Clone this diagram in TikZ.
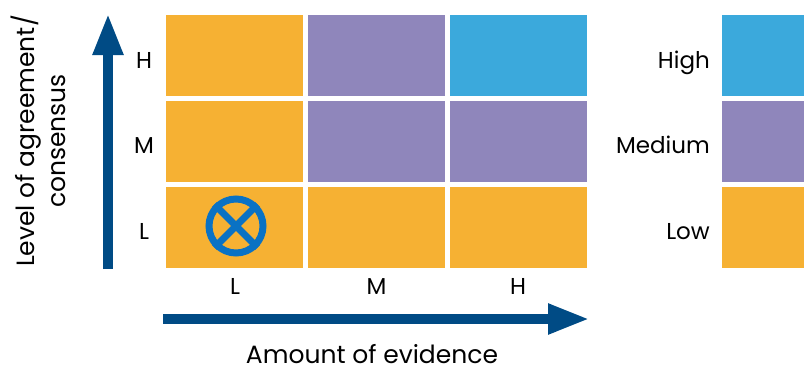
\documentclass[tikz,border=0pt]{standalone}
\usepackage{fontspec}
\setmainfont{Poppins}
\usetikzlibrary{arrows.meta}
\definecolor{low}{HTML}{F6B133}
\definecolor{med}{HTML}{8F86BB}
\definecolor{high}{HTML}{3BA9DC}
\definecolor{axisblue}{HTML}{004B85}
\definecolor{markblue}{HTML}{0A72C4}
\tikzset{
    cell/.style={rectangle,minimum width=137pt,minimum height=81pt,inner sep=0pt},
    lbl/.style={font=\fontsize{23}{28}\selectfont,inner sep=0pt,anchor=base},
    title/.style={font=\fontsize{25}{31}\selectfont,inner sep=0pt},
    axis/.style={axisblue,line width=10.5pt,-{Triangle[width=28pt,length=42pt]}}
}
\begin{document}
\begin{tikzpicture}[x=1pt,y=-1pt]
                \useasboundingbox (0,0) rectangle (806,372);
                \foreach \n/\i/\j/\col in {LL/0/0/low,ML/1/0/low,HL/2/0/low,LM/0/1/low,MM/1/1/med,HM/2/1/med,LH/0/2/low,MH/1/2/med,HH/2/2/high}
                    \node[cell,fill=\col] (\n) at (234.5+142*\i,227-85.75*\j) {};
                \foreach \n/\j/\t in {yL/0/L,yM/1/M,yH/2/H}
                    \node[lbl] (\n) at (144,239.5-85.75*\j) {\t};
                \foreach \n/\i/\t in {xL/0/L,xM/1/M,xH/2/H}
                    \node[lbl] (\n) at (235+141.5*\i,294) {\t};
                \foreach \n/\j/\col/\t in {keyL/0/low/Low,keyM/1/med/Medium,keyH/2/high/High}{
                    \node[cell,fill=\col,minimum width=82pt] (\n) at (763,227-85.75*\j) {};
                    \node[lbl,anchor=base east] (\n text) at (710,239.5-85.75*\j) {\t};
                }
                % the marked cell
                \node[circle,draw=markblue,line width=7pt,minimum size=54pt] (mark) at (236,226) {};
                \draw[markblue,line width=7pt] (mark.45) -- (mark.225) (mark.135) -- (mark.315);
                % axes
                \coordinate (ybot) at (108,269);
                \coordinate (ytop) at (108,13);
                \coordinate (xleft) at (163,319);
                \coordinate (xright) at (590,319);
                \draw[axis] (ybot) -- (ytop);
                \draw[axis] (xleft) -- (xright);
                \node[title,anchor=base] (xtitle) at (372,363) {Amount of evidence};
                \node[title,rotate=90,align=center] (ytitle) at (38,141) {Level of agreement/\\consensus};
\end{tikzpicture}
\end{document}
